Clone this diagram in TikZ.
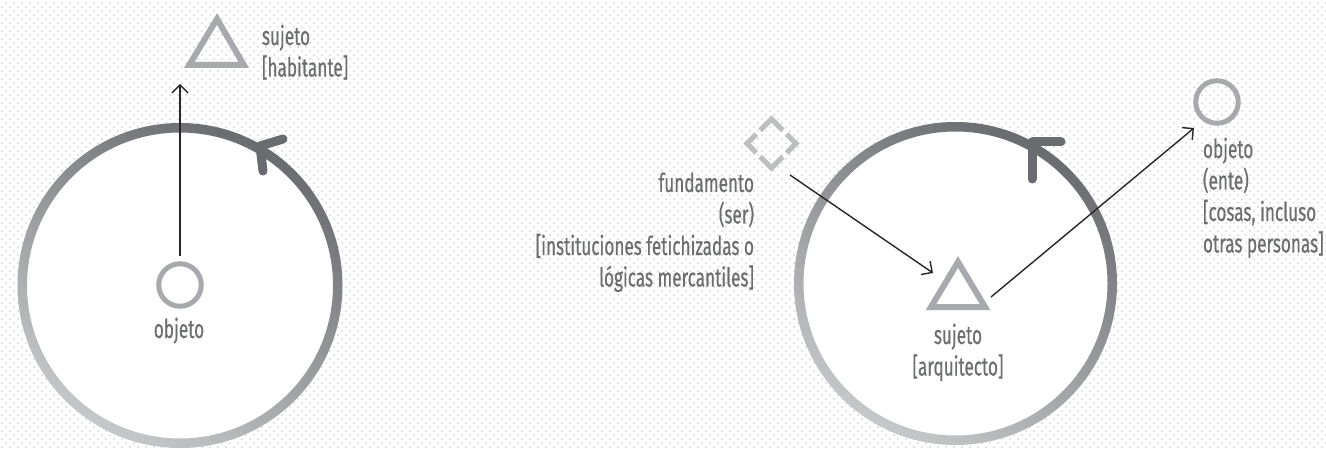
\documentclass[tikz,border=0pt]{standalone}
\usepackage{fontspec}
\setmainfont{Fira Sans}[FakeStretch=0.66,FakeBold=0.5]
\usetikzlibrary{arrows.meta,patterns,calc}
\definecolor{txt}{HTML}{6C6D70}
\definecolor{cdark}{HTML}{6A6B6E}
\definecolor{clight}{HTML}{C6C7C9}
\definecolor{shp}{HTML}{A8A9AC}
\definecolor{dia}{HTML}{BDBEC0}
\definecolor{arrc}{HTML}{2A2627}
\definecolor{dotc}{HTML}{C8C8CB}
\pgfdeclarepatternformonly{bgdots}{\pgfqpoint{-1pt}{-1pt}}{\pgfqpoint{9pt}{9pt}}{\pgfqpoint{8pt}{8pt}}{%
  \pgfpathcircle{\pgfqpoint{2pt}{2pt}}{0.95pt}%
  \pgfpathcircle{\pgfqpoint{6pt}{6pt}}{0.95pt}%
  \pgfusepath{fill}}
\tikzset{
  lbl/.style={text=txt, font=\fontsize{26}{31.5}\selectfont, inner sep=0pt, outer sep=0pt},
  arr/.style={draw=arrc, line width=1.4pt, -{Straight Barb[length=8pt,width=16pt,line width=1.4pt]}},
  chev/.style={draw=cdark, line width=9pt, line cap=round, line join=round},
  smallcirc/.style={circle, draw=shp, line width=5pt, minimum size=42.5pt, inner sep=0pt},
  tri/.style={draw=shp, line width=6pt, line join=miter},
  diachev/.style={draw=dia, line width=5pt, line join=miter},
}
\begin{document}
\begin{tikzpicture}[x=1pt,y=-1pt]
\useasboundingbox (0,0) rectangle (1326,449);
\fill[white] (0,0) rectangle (1326,449);
\fill[pattern=bgdots, pattern color=dotc] (0,0) rectangle (1326,449);

% ---------- left diagram ----------
\coordinate (c1) at (180,285.5);
\fill[white] (c1) circle[radius=154pt];
\shade[even odd rule, top color=cdark, bottom color=clight, shading angle=-30]
  (c1) circle[radius=162.5pt] (c1) circle[radius=153pt];
\draw[chev] (283,139) -- (260,146) -- (263,171);

\node[smallcirc] (o1) at (180,285) {};
\node[lbl, anchor=base] (o1lbl) at (179,338) {objeto};

\draw[tri] (217,19) -- (243.8,65) -- (189.2,65) -- cycle;
\coordinate (s1) at (217,48);
\node[lbl, anchor=base west, align=left] (s1lbl) at (262,76.5) {sujeto\\{[}habitante{]}};

\coordinate (a1s) at (180,256);
\coordinate (a1e) at (180,84);
\draw[arr] (a1s) -- (a1e);

% ---------- right diagram ----------
\coordinate (c2) at (955.5,283.5);
\fill[white] (c2) circle[radius=153pt];
\shade[even odd rule, top color=cdark, bottom color=clight, shading angle=-30]
  (c2) circle[radius=161.5pt] (c2) circle[radius=152pt];
\draw[chev] (1061,142) -- (1032,142) -- (1032,179);

\draw[tri] (958,262) -- (985,307) -- (931,307) -- cycle;
\coordinate (s2) at (958,290);
\node[lbl, anchor=base, align=center] (s2lbl) at (958,375.5) {sujeto\\{[}arquitecto{]}};

% fundamento diamond
\coordinate (T) at (771.5,119);
\coordinate (B) at (771.5,168);
\coordinate (L) at (747,143.5);
\coordinate (R) at (796,143.5);
\draw[diachev] ($(T)!0.46!(L)$) -- (T) -- ($(T)!0.46!(R)$);
\draw[diachev] ($(B)!0.46!(L)$) -- (B) -- ($(B)!0.46!(R)$);
\draw[diachev] ($(L)!0.38!(T)$) -- (L) -- ($(L)!0.38!(B)$);
\draw[diachev] ($(R)!0.38!(T)$) -- (R) -- ($(R)!0.38!(B)$);
\node[lbl, anchor=base east, align=right] (flbl) at (754,286.5)
  {fundamento\\(ser)\\{[}instituciones fetichizadas o\\lógicas mercantiles{]}};

% objeto (ente)
\node[smallcirc] (o2) at (1217,102) {};
\node[lbl, anchor=base west, align=left] (o2lbl) at (1203,252.5)
  {objeto\\(ente)\\{[}cosas, incluso\\otras personas{]}};

\coordinate (a2s) at (790,175);
\coordinate (a2e) at (933,273);
\draw[arr] (a2s) -- (a2e);
\coordinate (a3s) at (991,297);
\coordinate (a3e) at (1194,128);
\draw[arr] (a3s) -- (a3e);
\end{tikzpicture}
\end{document}
